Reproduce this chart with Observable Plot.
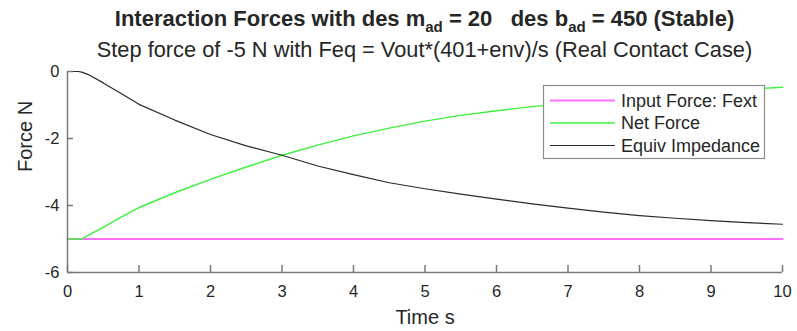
<!DOCTYPE html>
<html>
<head>
<meta charset="utf-8">
<script src="https://cdn.jsdelivr.net/npm/d3@7"></script>
<script src="https://cdn.jsdelivr.net/npm/@observablehq/plot@0.6"></script>
<style>
  body { margin: 0; background: #fff; }
  #chart { position: relative; width: 797px; height: 331px; font-family: "Liberation Sans", Arial, sans-serif; color: #262626; }
  .title, .subtitle { position: absolute; left: 0; width: 849px; text-align: center; white-space: pre; line-height: 1; z-index: 1; }
  .title { top: 8px; font-size: 22px; font-weight: bold; }
  .subtitle { top: 39px; font-size: 21.8px; }
  .sub { font-size: 15px; position: relative; top: 6px; }
  svg { position: absolute; left: 0; top: 0; }
</style>
</head>
<body>
<div id="chart">
  <div class="title">Interaction Forces with des m<span class="sub">ad</span> = 20   des b<span class="sub">ad</span> = 450 (Stable)</div>
  <div class="subtitle">Step force of -5 N with Feq = Vout*(401+env)/s (Real Contact Case)</div>
</div>
<script>
// Time samples (s) and force traces (N)
const time = [0, 0.15, 0.2, 0.3, 0.5, 0.75, 1, 1.5, 2, 2.5, 3, 3.5, 4, 4.5, 5, 5.5, 6, 6.5, 7, 7.5, 8, 8.5, 9, 9.5, 10];
const netForce = [-5, -5, -5, -4.88, -4.65, -4.35, -4.06, -3.62, -3.22, -2.85, -2.5, -2.2, -1.92, -1.69, -1.48, -1.31, -1.17, -1.05, -0.94, -0.85, -0.76, -0.67, -0.6, -0.53, -0.47];
const equivImpedance = [0, 0, -0.02, -0.1, -0.34, -0.66, -0.98, -1.45, -1.88, -2.22, -2.5, -2.82, -3.08, -3.32, -3.5, -3.66, -3.81, -3.95, -4.08, -4.2, -4.3, -4.38, -4.45, -4.51, -4.56];
const inputTime = [0, 10];
const inputForce = [-5, -5];

const xTicks = [0, 1, 2, 3, 4, 5, 6, 7, 8, 9, 10];
const yTicks = [0, -2, -4, -6];

const seriesNames = ["Input Force: Fext", "Net Force", "Equiv Impedance"];
const seriesColors = ["#ff70ff", "#3ef03e", "#2a2a2a"];
const seriesWidths = [2, 1.4, 1.2];

const inputRows = inputTime.map((t, i) => ({t, v: inputForce[i]}));
const netRows = time.map((t, i) => ({t, v: netForce[i]}));
const equivRows = time.map((t, i) => ({t, v: equivImpedance[i]}));

const W = 797, H = 331;
const mL = 67, mR = 15, mT = 71, mB = 59;
const frameW = W - mL - mR, frameH = H - mT - mB;
const axisGray = "#7a7a7a";
const textColor = "#262626";

const plot = Plot.plot({
  width: W,
  height: H,
  marginLeft: mL,
  marginRight: mR,
  marginTop: mT,
  marginBottom: mB,
  style: {fontFamily: "\"Liberation Sans\", Arial, sans-serif", fontSize: "16px", color: textColor, background: "transparent"},
  x: {domain: [0, 10]},
  y: {domain: [-6, 0]},
  marks: [
    Plot.axisX(xTicks, {tickSize: 0, tickPadding: 13, tickFormat: d => String(d), fontSize: 16.5, label: null}),
    Plot.axisY(yTicks, {tickSize: 0, tickPadding: 8, tickFormat: d => String(d), fontSize: 16.5, label: null}),
    Plot.lineY(inputRows, {x: "t", y: "v", stroke: seriesColors[0], strokeWidth: seriesWidths[0]}),
    Plot.lineY(netRows, {x: "t", y: "v", stroke: seriesColors[1], strokeWidth: seriesWidths[1]}),
    Plot.lineY(equivRows, {x: "t", y: "v", stroke: seriesColors[2], strokeWidth: seriesWidths[2]}),
    // inward ticks on the bottom and left axes
    Plot.ruleX(xTicks, {x: d => d, insetTop: frameH - 7, stroke: axisGray, strokeWidth: 1.5}),
    Plot.ruleY(yTicks, {y: d => d, insetRight: frameW - 6, stroke: axisGray, strokeWidth: 1.5}),
    Plot.ruleY([-6], {stroke: axisGray, strokeWidth: 1.5}),
    Plot.ruleX([0], {stroke: axisGray, strokeWidth: 1.5}),
    Plot.text(["Time s"], {frameAnchor: "bottom", dy: 51, fontSize: 20, fill: textColor}),
    Plot.text(["Force N"], {frameAnchor: "left", dx: -42, rotate: -90, fontSize: 20, fill: textColor})
  ]
});

// Legend box in the upper right of the axes
const svg = d3.select(plot);
const lg = svg.append("g")
  .attr("font-family", "\"Liberation Sans\", Arial, sans-serif")
  .attr("font-size", 18)
  .attr("text-anchor", "start");
lg.append("rect").attr("x", 543.5).attr("y", 85.5).attr("width", 221).attr("height", 73)
  .attr("fill", "#fff").attr("stroke", "#8c8c8c").attr("stroke-width", 1.2);
seriesNames.forEach((name, i) => {
  const cy = 100.5 + i * 22.5;
  lg.append("line").attr("x1", 550).attr("x2", 615).attr("y1", cy).attr("y2", cy)
    .attr("stroke", seriesColors[i]).attr("stroke-width", seriesWidths[i]);
  lg.append("text").attr("x", 621).attr("y", cy).attr("dy", "0.35em").attr("fill", textColor).text(name);
});

document.getElementById("chart").appendChild(plot);
</script>
</body>
</html>
